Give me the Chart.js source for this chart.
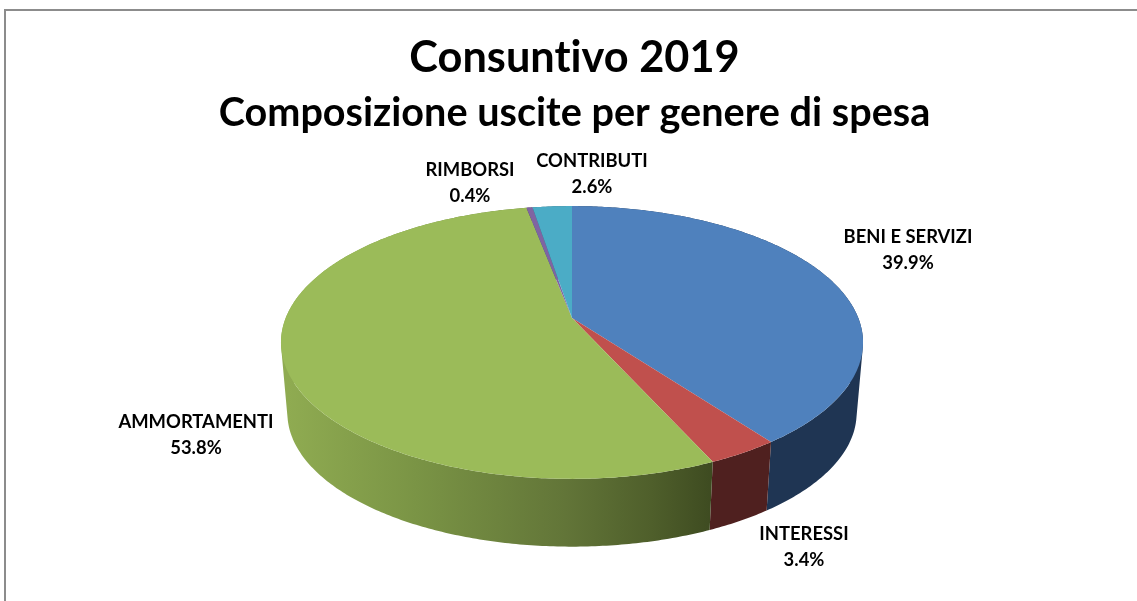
<!DOCTYPE html>
<html lang="it">
<head>
<meta charset="utf-8">
<title>Consuntivo 2019</title>
<script src="https://cdn.jsdelivr.net/npm/chart.js@4/dist/chart.umd.min.js"></script>
<style>
html,body{margin:0;padding:0;background:#fff;overflow:hidden}
canvas{display:block}
</style>
</head>
<body>
<canvas id="c" width="1137" height="601"></canvas>
<script>
const titleText = "Consuntivo 2019";
const subtitleText = "Composizione uscite per genere di spesa";
const categories = ["BENI E SERVIZI", "INTERESSI", "AMMORTAMENTI", "RIMBORSI", "CONTRIBUTI"];
const values = [39.9, 3.4, 53.8, 0.4, 2.6];
const faceColors = ["#4f81bd", "#c0504d", "#9bbb59", "#8064a2", "#4bacc6"];

// Look of the tilted pie (a perspective view of the library's arc angles)
const view = {cx: 572, apexY: 318, a: 286.3, b: 132, k: -0.1795, midY: 342.5, wallY: 413, wallScale: 0.978};
const wallPaint = [
  {stops: [[0, "#1f3553"], [1, "#1f3553"]]},
  {stops: [[0, "#4f201f"], [1, "#4f201f"]]},
  {x0: 288, x1: 715, stops: [[0, "#8fab51"], [0.3, "#7a9445"], [0.65, "#627538"], [0.85, "#4f5f2b"], [1, "#3d4a20"]]},
  {stops: [[0, "#4d3c61"], [1, "#4d3c61"]]},
  {stops: [[0, "#2d6777"], [1, "#2d6777"]]}
];
const labelPlace = [[908, 237], [804, 534], [196, 422], [470, 170], [592, 161]];

function project(angle) {
  const u = Math.cos(angle), v = Math.sin(angle), w = 1 + view.k * v;
  return {x: view.cx + view.a * u / w, y: view.apexY + view.b * v / w};
}
function wallPoint(p) {
  return {x: view.cx + (p.x - view.cx) * view.wallScale,
          y: view.wallY + (p.y - view.midY) * 0.98};
}

const tiltedPie = {
  id: "tiltedPie",
  beforeInit(chart) {
    chart.ctx.letterSpacing = "0.01px";
  },
  beforeDraw(chart) {
    const ctx = chart.ctx;
    ctx.letterSpacing = "0.01px";
    ctx.save();
    ctx.strokeStyle = "#8c8c8c";
    ctx.lineWidth = 2;
    ctx.beginPath();
    ctx.moveTo(5, 601); ctx.lineTo(5, 10); ctx.lineTo(1137, 10);
    ctx.stroke();
    ctx.restore();
  },
  beforeDatasetDraw(chart, args) {
    const ctx = chart.ctx;
    const arcs = chart.getDatasetMeta(args.index).data;
    ctx.save();
    // side wall: one path of consistently wound quads, so the fold at the sides fills
    arcs.forEach((arc, i) => {
      const paint = wallPaint[i];
      const g = ctx.createLinearGradient(paint.x0 || 0, 0, paint.x1 || 1137, 0);
      paint.stops.forEach(s => g.addColorStop(s[0], s[1]));
      ctx.fillStyle = g;
      const n = Math.max(2, Math.ceil((arc.endAngle - arc.startAngle) * 90));
      ctx.beginPath();
      for (let j = 0; j < n; j++) {
        const p0 = project(arc.startAngle + (arc.endAngle - arc.startAngle) * j / n);
        const p1 = project(arc.startAngle + (arc.endAngle - arc.startAngle) * (j + 1) / n);
        let quad = [p0, p1, wallPoint(p1), wallPoint(p0)];
        let area = 0;
        quad.forEach((a, m) => { const b = quad[(m + 1) % 4]; area += a.x * b.y - b.x * a.y; });
        if (area < 0) quad = quad.reverse();
        quad.forEach((a, m) => m ? ctx.lineTo(a.x, a.y) : ctx.moveTo(a.x, a.y));
        ctx.closePath();
      }
      ctx.fill("nonzero");
    });
    // top face
    arcs.forEach((arc, i) => {
      ctx.fillStyle = arc.options.backgroundColor;
      ctx.beginPath();
      ctx.moveTo(view.cx, view.apexY);
      const n = Math.max(2, Math.ceil((arc.endAngle - arc.startAngle) * 90));
      for (let j = 0; j <= n; j++) {
        const p = project(arc.startAngle + (arc.endAngle - arc.startAngle) * j / n);
        ctx.lineTo(p.x, p.y);
      }
      ctx.closePath();
      ctx.fill();
    });
    // data labels
    ctx.fillStyle = "#000";
    ctx.font = "bold 18.4px Lato, sans-serif";
    ctx.textAlign = "center";
    ctx.textBaseline = "middle";
    chart.data.labels.forEach((name, i) => {
      const at = labelPlace[i];
      ctx.fillText(name, at[0], at[1]);
      ctx.fillText(chart.data.datasets[0].data[i].toFixed(1) + "%", at[0], at[1] + 26);
    });
    ctx.restore();
    return false;
  }
};

new Chart(document.getElementById("c"), {
  type: "pie",
  data: {
    labels: categories,
    datasets: [{data: values, backgroundColor: faceColors, borderWidth: 0}]
  },
  options: {
    responsive: false,
    animation: false,
    events: [],
    layout: {padding: {left: 12}},
    plugins: {
      legend: {display: false},
      tooltip: {enabled: false},
      title: {display: true, text: titleText, color: "#000", align: "center",
              font: {family: "Lato, sans-serif", size: 43.3, weight: "bold"}, padding: {top: 32, bottom: 0}},
      subtitle: {display: true, text: subtitleText, color: "#000", align: "center",
              font: {family: "Lato, sans-serif", size: 39.6, weight: "bold"}, padding: {top: 6, bottom: 0}}
    }
  },
  plugins: [tiltedPie]
});
</script>
</body>
</html>
